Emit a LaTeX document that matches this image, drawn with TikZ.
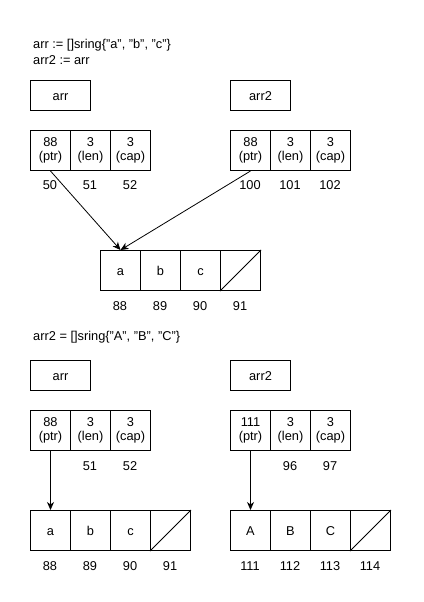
\documentclass[tikz,border=0pt]{standalone}
\usepackage{fontspec}
\setmainfont{Liberation Sans}
\usetikzlibrary{arrows.meta}
\begin{document}
\begin{tikzpicture}[x=1pt,y=-1pt,font=\fontsize{12.8}{14.5}\selectfont,
  cell/.style={draw,line width=1pt,minimum width=40pt,minimum height=40pt,inner sep=0pt,align=center,anchor=north west},
  elem/.style={cell,text height=9pt,text depth=0pt},
  var/.style={draw,line width=1pt,minimum width=60pt,minimum height=30pt,inner sep=0pt,anchor=north west,text height=9pt,text depth=0pt},
  lbl/.style={inner sep=0pt,text height=9pt,text depth=0pt},
  code/.style={inner sep=0pt,anchor=west},
  ptr/.style={line width=0.8pt,-{Stealth[length=8pt,width=7pt,inset=2.5pt]}}]
\useasboundingbox (0,0) rectangle (423,602);
% --- section 1
\node[code] (t1) at (33,45) {arr := []sring\{"a", "b", "c"\}};
\node[code] (t2) at (33,60) {arr2 := arr};
\node[var] (v1) at (30,80) {arr};
\node[var] (v2) at (230,80) {arr2};
\node[cell] (s1p) at (30,130) {88\\(ptr)};
\node[cell] (s1l) at (70,130) {3\\(len)};
\node[cell] (s1c) at (110,130) {3\\(cap)};
\node[lbl] (n50) at (50,185) {50};
\node[lbl] (n51) at (90,185) {51};
\node[lbl] (n52) at (130,185) {52};
\node[cell] (s2p) at (230,130) {88\\(ptr)};
\node[cell] (s2l) at (270,130) {3\\(len)};
\node[cell] (s2c) at (310,130) {3\\(cap)};
\node[lbl] (n100) at (250,185) {100};
\node[lbl] (n101) at (290,185) {101};
\node[lbl] (n102) at (330,185) {102};
\node[elem] (a1) at (100,250) {a};
\node[elem] (a2) at (140,250) {b};
\node[elem] (a3) at (180,250) {c};
\node[elem] (a4) at (220,250) {};
\draw[line width=0.8pt] (a4.south west) -- (a4.north east);
\node[lbl] (m88) at (120,306) {88};
\node[lbl] (m89) at (160,306) {89};
\node[lbl] (m90) at (200,306) {90};
\node[lbl] (m91) at (240,306) {91};
\draw[ptr] (s1p.south) -- (a1.north);
\draw[ptr] (s2p.south) -- (a1.north);
% --- section 2
\node[code] (t3) at (33,337) {arr2 = []sring\{"A", "B", "C"\}};
\node[var] (w1) at (30,360) {arr};
\node[var] (w2) at (230,360) {arr2};
\node[cell] (r1p) at (30,410) {88\\(ptr)};
\node[cell] (r1l) at (70,410) {3\\(len)};
\node[cell] (r1c) at (110,410) {3\\(cap)};
\node[lbl] (k51) at (90,466) {51};
\node[lbl] (k52) at (130,466) {52};
\node[cell] (r2p) at (230,410) {111\\(ptr)};
\node[cell] (r2l) at (270,410) {3\\(len)};
\node[cell] (r2c) at (310,410) {3\\(cap)};
\node[lbl] (k96) at (290,466) {96};
\node[lbl] (k97) at (330,466) {97};
\node[elem] (b1) at (30,510) {a};
\node[elem] (b2) at (70,510) {b};
\node[elem] (b3) at (110,510) {c};
\node[elem] (b4) at (150,510) {};
\draw[line width=0.8pt] (b4.south west) -- (b4.north east);
\node[lbl] (j88) at (50,566) {88};
\node[lbl] (j89) at (90,566) {89};
\node[lbl] (j90) at (130,566) {90};
\node[lbl] (j91) at (170,566) {91};
\node[elem] (c1) at (230,510) {A};
\node[elem] (c2) at (270,510) {B};
\node[elem] (c3) at (310,510) {C};
\node[elem] (c4) at (350,510) {};
\draw[line width=0.8pt] (c4.south west) -- (c4.north east);
\node[lbl] (j111) at (250,566) {111};
\node[lbl] (j112) at (290,566) {112};
\node[lbl] (j113) at (330,566) {113};
\node[lbl] (j114) at (370,566) {114};
\draw[ptr] (r1p.south) -- (b1.north);
\draw[ptr] (r2p.south) -- (c1.north);
\end{tikzpicture}
\end{document}
